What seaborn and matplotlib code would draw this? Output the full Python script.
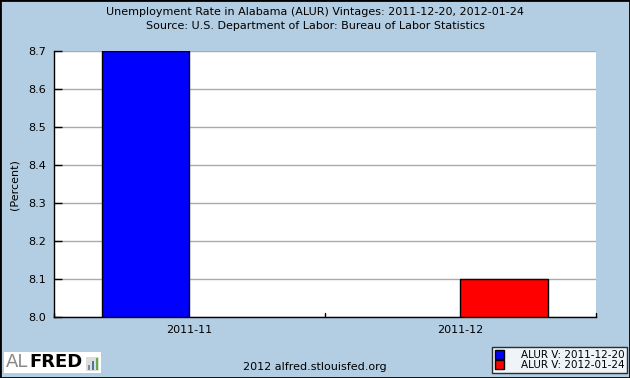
import pandas as pd
import seaborn as sns
import matplotlib.pyplot as plt
from matplotlib.patches import Patch, Rectangle

# data
months = ['2011-11', '2011-12']
vintages = ['ALUR V: 2011-12-20', 'ALUR V: 2012-01-24']
values = [8.7, 8.1]
colors = ['#0000FF', '#FF0000']

df = pd.DataFrame({'month': months, 'vintage': vintages, 'value': values})

bg = '#B3CDE3'
sns.set_style('white')
plt.rcParams['font.family'] = ['DejaVu Sans']
plt.rcParams['text.color'] = 'black'
plt.rcParams['xtick.color'] = 'black'
plt.rcParams['ytick.color'] = 'black'
plt.rcParams['axes.labelcolor'] = 'black'

fig = plt.figure(figsize=(6.3, 3.78), dpi=100, facecolor=bg)
ax = fig.add_axes([0.0857, 0.161, 0.86, 0.704])

sns.barplot(data=df, x='month', y='value', hue='vintage', hue_order=vintages,
            order=months, palette=colors, saturation=1, width=0.647, dodge=True,
            edgecolor='black', linewidth=1, ax=ax, legend=False)

ax.set_ylim(8.0, 8.7)
ax.set_xlim(-0.5, 1.5)
ax.set_yticks([8.0, 8.1, 8.2, 8.3, 8.4, 8.5, 8.6, 8.7])
ax.set_yticklabels([f'{v:.1f}' for v in ax.get_yticks()], fontsize=8)
ax.yaxis.grid(True, color='#AAAAAA', linewidth=1)
ax.set_axisbelow(True)
ax.set_xticks([0, 1])
ax.set_xticklabels(months, fontsize=8)
ax.tick_params(axis='x', length=0, pad=6)
ax.tick_params(axis='y', direction='in', length=6, width=1, color='black', left=True, pad=6)
# bin boundary ticks along bottom
for xb in [-0.5, 0.5, 1.5]:
    ax.plot([xb, xb], [8.0, 8.012], color='black', linewidth=1, clip_on=False)
ax.set_xlabel('')
ax.set_ylabel('(Percent)', fontsize=8, labelpad=6)
for s in ['top', 'right']:
    ax.spines[s].set_visible(False)
for s in ['left', 'bottom']:
    ax.spines[s].set_color('black')
    ax.spines[s].set_linewidth(1)

fig.text(0.5, 0.968, 'Unemployment Rate in Alabama (ALUR) Vintages: 2011-12-20, 2012-01-24',
         ha='center', va='center', fontsize=8)
fig.text(0.5, 0.93, 'Source: U.S. Department of Labor: Bureau of Labor Statistics',
         ha='center', va='center', fontsize=8)
fig.text(0.5, 0.03, '2012 alfred.stlouisfed.org', ha='center', va='center', fontsize=8)

# ALFRED logo box
fig.patches.append(Rectangle((4 / 630, 1 - 373 / 378), 97 / 630, 21 / 378,
                             transform=fig.transFigure, facecolor='white', edgecolor='none'))
fig.text(6 / 630, 0.042, 'AL', color='#888888', fontsize=13, va='center', ha='left')
fig.text(29 / 630, 0.042, 'FRED', color='black', fontsize=13, fontweight='bold', va='center', ha='left')
fig.patches.append(Rectangle((86 / 630, 1 - 371 / 378), 13 / 630, 14 / 378,
                             transform=fig.transFigure, facecolor='#DDDDDD', edgecolor='none'))
for bx, bh, bc in [(88, 5, '#888888'), (92, 9, '#4477AA'), (96, 12, '#66AA44')]:
    fig.patches.append(Rectangle((bx / 630, 1 - 370 / 378), 2 / 630, bh / 378,
                                 transform=fig.transFigure, facecolor=bc, edgecolor='none'))

handles = [Patch(facecolor=c, edgecolor='black', label=v) for c, v in zip(colors, vintages)]
leg = fig.legend(handles=handles, loc='lower right', bbox_to_anchor=(627 / 630, 5 / 378),
                 fontsize=7.5, frameon=True, fancybox=False, handlelength=0.9, handleheight=1.0,
                 handletextpad=1.6, labelspacing=0.0, borderpad=0.25, borderaxespad=0)
leg.get_frame().set_edgecolor('black')
leg.get_frame().set_linewidth(1)

# outer border
fig.patches.append(Rectangle((0, 0), 1, 1, transform=fig.transFigure, fill=False,
                             edgecolor='black', linewidth=2))

fig.savefig('out.png', dpi=100, facecolor=bg)
